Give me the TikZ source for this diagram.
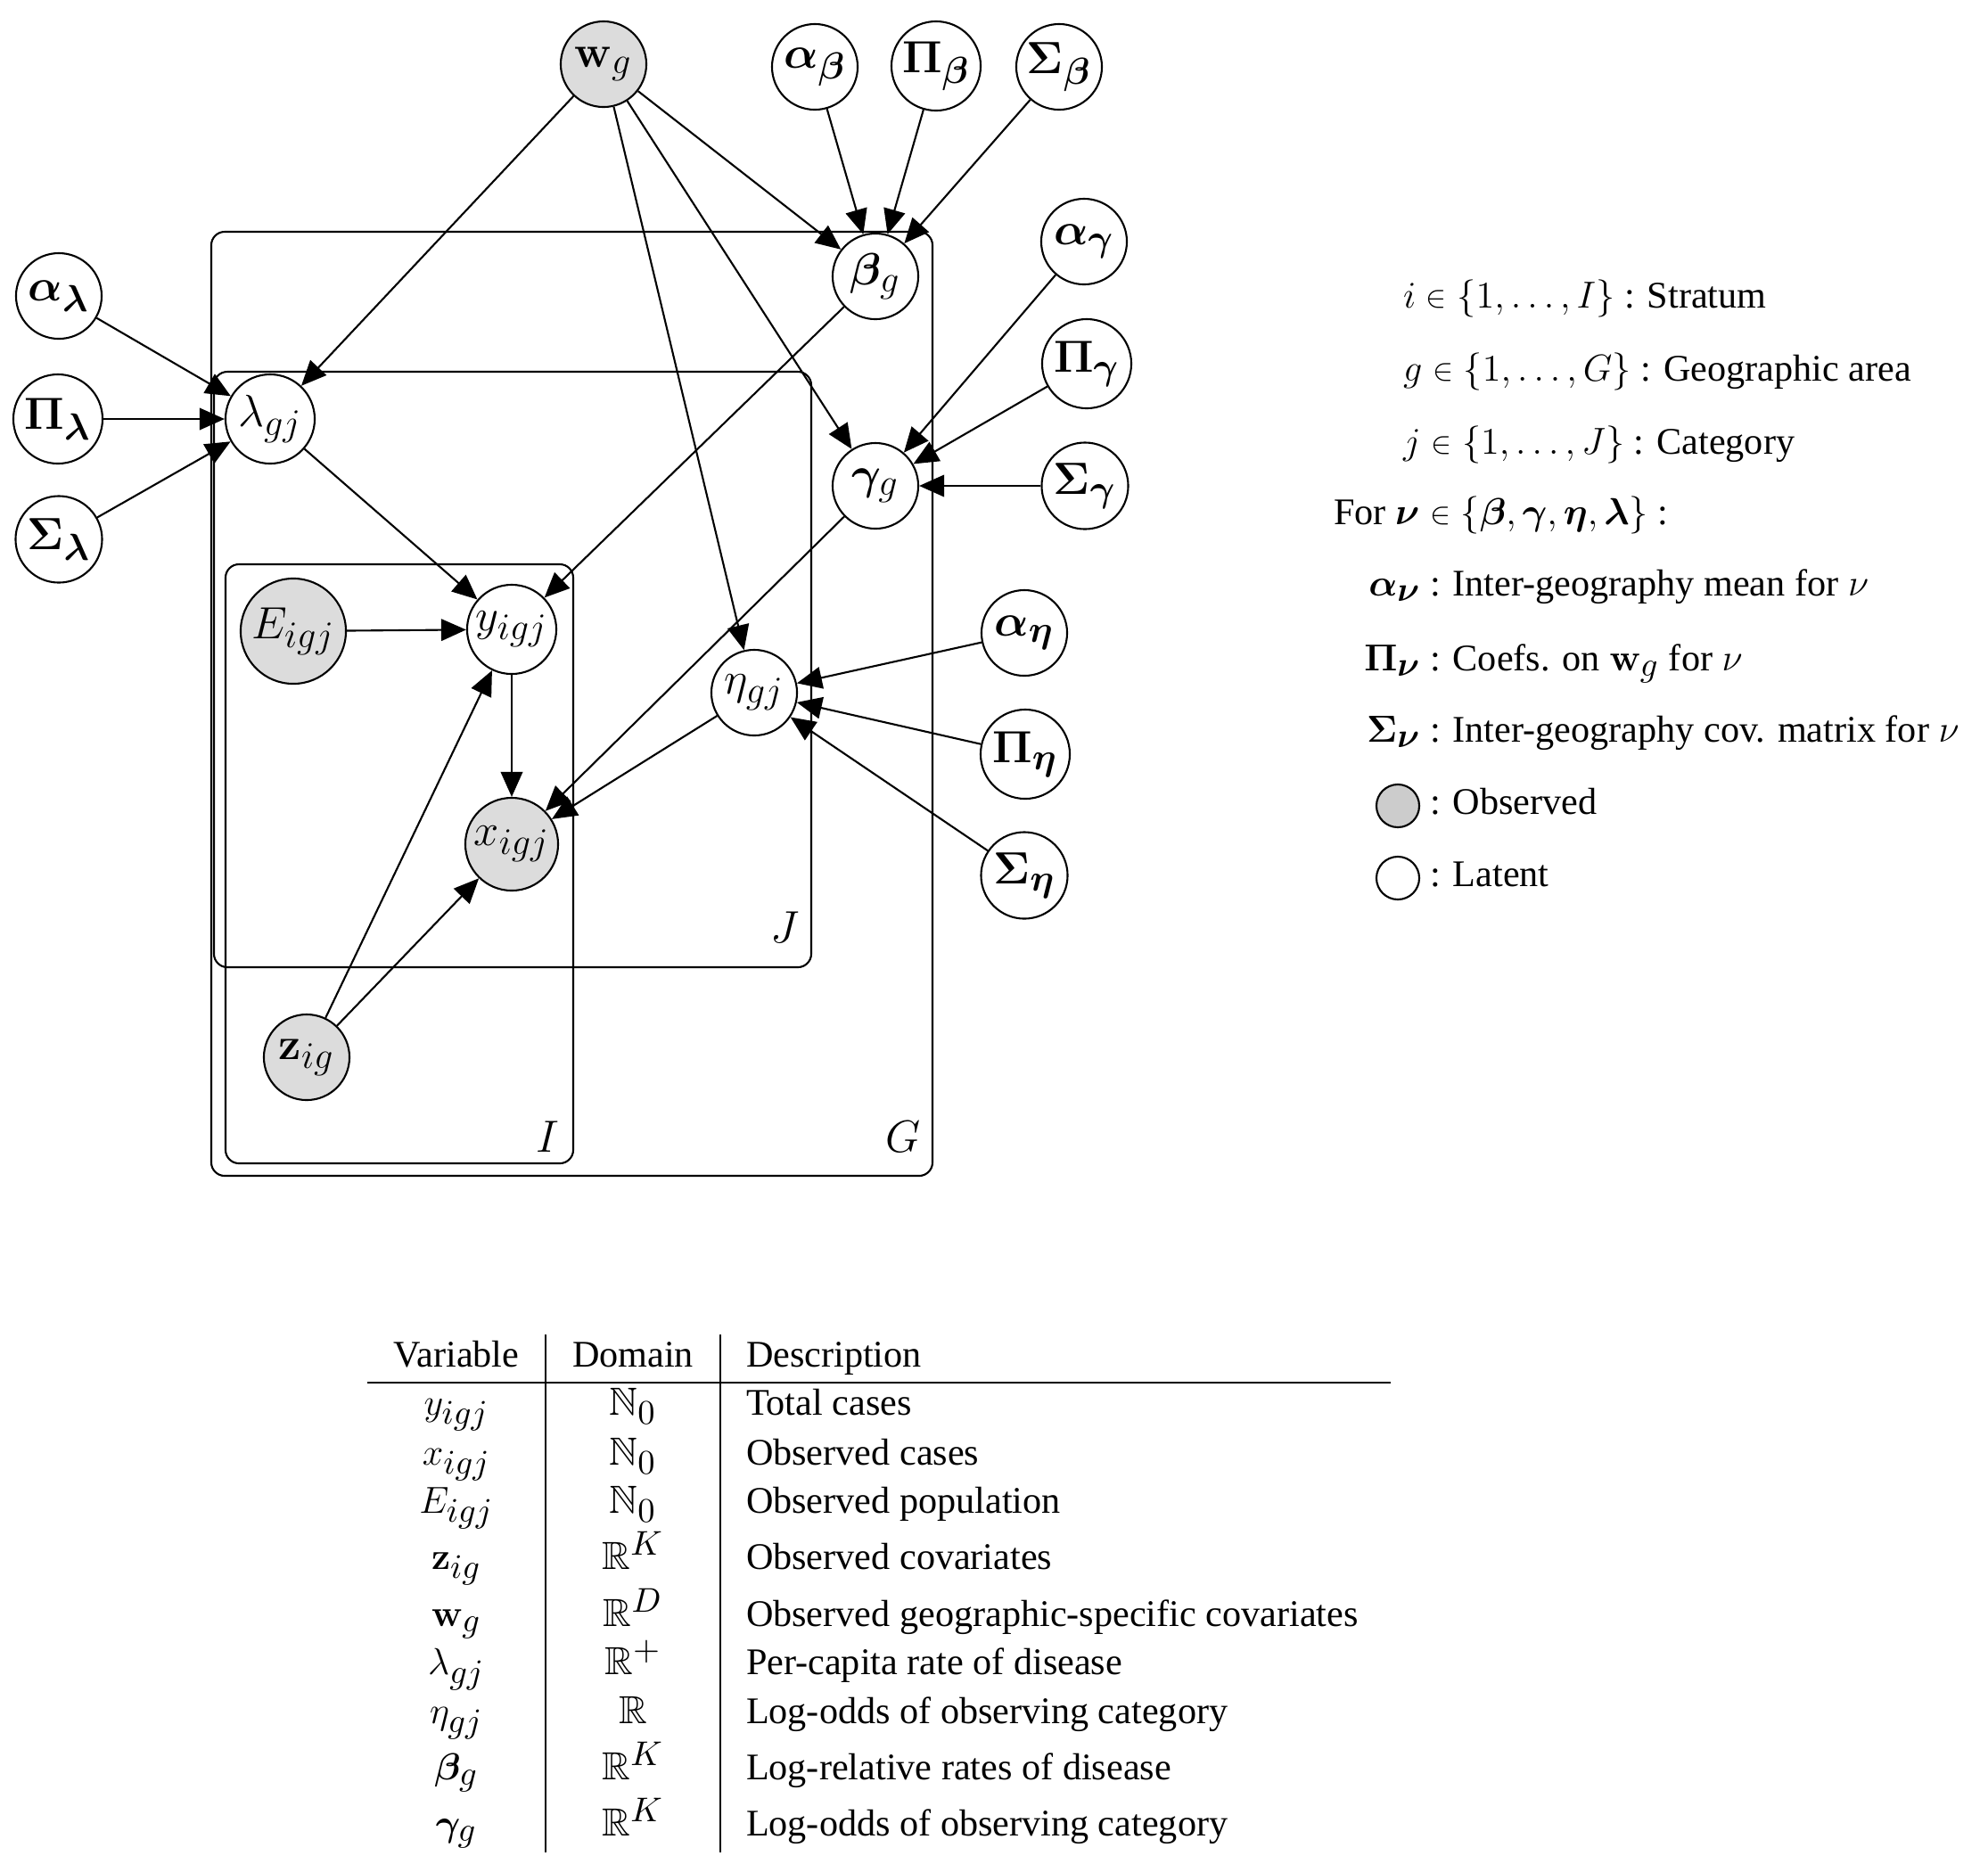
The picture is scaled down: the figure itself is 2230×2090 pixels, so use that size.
\documentclass[tikz,border=0pt]{standalone}
\usepackage{amsmath,amssymb,bm}
\usepackage{graphicx}
\usepackage[no-math]{fontspec}
\setmainfont{Liberation Serif}
\usetikzlibrary{arrows.meta}
\DeclareMathSizes{14}{14}{11.5}{9}
\DeclareMathSizes{12}{12.5}{10.6}{8.5}
\definecolor{obsgray}{HTML}{DCDCDC}
\definecolor{leggray}{HTML}{CCCCCC}
\newcommand{\myin}{\mathrel{\raisebox{0.05ex}{\scalebox{0.82}{$\in$}}}}
\begin{document}
\begin{tikzpicture}[x=0.01cm,y=-0.01cm,
  lw/.style={line width=0.6pt},
  nd/.style={circle, draw, lw, fill=white, inner sep=0pt, font=\fontsize{14}{16}\selectfont},
  obs/.style={nd, fill=obsgray},
  arr/.style={lw, -{Triangle[length=0.28cm,width=0.245cm]}},
  plate/.style={lw, rounded corners=0.15cm},
  txt/.style={inner sep=0pt, outer sep=0pt, font=\fontsize{12}{14}\selectfont},
  plab/.style={inner sep=0pt, font=\fontsize{14}{16}\selectfont},
  legc/.style={circle, draw, lw, minimum size=0.48cm, inner sep=0pt}
]
\useasboundingbox (0,0) rectangle (2230,2090);

% plates
\draw[plate] (237,260) rectangle (1046,1319);
\draw[plate] (240,417) rectangle (910,1085);
\draw[plate] (253,633) rectangle (643,1305);
\node[plab] (labJ) at (881,1040) {$J$};
\node[plab] (labI) at (614,1275) {$I$};
\node[plab] (labG) at (1013,1275) {$G$};

% nodes
\node[obs, minimum size=0.96cm] (wg) at (677,72) {$\mathbf{w}_g$};
\node[nd, minimum size=0.96cm] (ab) at (914,75) {$\bm{\alpha}_{\bm{\beta}}$};
\node[nd, minimum size=1.0cm] (pb) at (1050,74) {$\bm{\Pi}_{\bm{\beta}}$};
\node[nd, minimum size=0.96cm] (sb) at (1188,75) {$\bm{\Sigma}_{\bm{\beta}}$};
\node[nd, minimum size=0.96cm] (ag) at (1216,271) {$\bm{\alpha}_{\bm{\gamma}}$};
\node[nd, minimum size=1.0cm] (pg) at (1219,408) {$\bm{\Pi}_{\bm{\gamma}}$};
\node[nd, minimum size=0.97cm] (sg) at (1217,545) {$\bm{\Sigma}_{\bm{\gamma}}$};
\node[nd, minimum size=0.96cm] (ae) at (1149,710) {$\bm{\alpha}_{\bm{\eta}}$};
\node[nd, minimum size=1.0cm] (pe) at (1150,846) {$\bm{\Pi}_{\bm{\eta}}$};
\node[nd, minimum size=0.97cm] (se) at (1149,982) {$\bm{\Sigma}_{\bm{\eta}}$};
\node[nd, minimum size=0.96cm] (al) at (66,332) {$\bm{\alpha}_{\bm{\lambda}}$};
\node[nd, minimum size=1.0cm] (pl) at (65,470) {$\bm{\Pi}_{\bm{\lambda}}$};
\node[nd, minimum size=0.97cm] (sl) at (66,605) {$\bm{\Sigma}_{\bm{\lambda}}$};
\node[nd, minimum size=0.96cm] (beta) at (982,310) {$\bm{\beta}_g$};
\node[nd, minimum size=0.96cm] (gamma) at (982,545) {$\bm{\gamma}_g$};
\node[nd, minimum size=1.0cm] (lam) at (303,470) {$\lambda_{gj}$};
\node[nd, minimum size=1.0cm] (y) at (574,706) {$y_{igj}$};
\node[obs, minimum size=1.18cm] (E) at (329,708) {$E_{igj}$};
\node[nd, minimum size=0.96cm] (eta) at (846,777) {$\eta_{gj}$};
\node[obs, minimum size=1.04cm] (x) at (574,947) {$x_{igj}$};
\node[obs, minimum size=0.96cm] (z) at (344,1186) {$\mathbf{z}_{ig}$};

% edges
\draw[arr] (wg) -- (lam);
\draw[arr] (wg) -- (beta);
\draw[arr] (wg) -- (gamma);
\draw[arr] (wg) -- (eta);
\draw[arr] (ab) -- (beta);
\draw[arr] (pb) -- (beta);
\draw[arr] (sb) -- (beta);
\draw[arr] (ag) -- (gamma);
\draw[arr] (pg) -- (gamma);
\draw[arr] (sg) -- (gamma);
\draw[arr] (ae) -- (eta);
\draw[arr] (pe) -- (eta);
\draw[arr] (se) -- (eta);
\draw[arr] (al) -- (lam);
\draw[arr] (pl) -- (lam);
\draw[arr] (sl) -- (lam);
\draw[arr] (lam) -- (y);
\draw[arr] (beta) -- (y);
\draw[arr] (E) -- (y);
\draw[arr] (y) -- (x);
\draw[arr] (gamma) -- (x);
\draw[arr] (eta) -- (x);
\draw[arr] (z) -- (y);
\draw[arr] (z) -- (x);

% legend
\node[txt, anchor=base west] (l1) at (1574,345) {$i \myin \{1,\ldots,I\}$ : Stratum};
\node[txt, anchor=base west] (l2) at (1574,427) {$g \myin \{1,\ldots,G\}$ : Geographic area};
\node[txt, anchor=base west] (l3) at (1574,509) {$j \myin \{1,\ldots,J\}$ : Category};
\node[txt, anchor=base west] (l4) at (1496,588) {For $\bm{\nu} \myin \{\bm{\beta},\bm{\gamma},\bm{\eta},\bm{\lambda}\}$ :};
\node[txt, anchor=base east] (s5) at (1594,668) {$\bm{\alpha}_{\bm{\nu}}$};
\node[txt, anchor=base west] (l5) at (1604,668) {: Inter-geography mean for $\nu$};
\node[txt, anchor=base east] (s6) at (1594,752) {$\bm{\Pi}_{\bm{\nu}}$};
\node[txt, anchor=base west] (l6) at (1604,752) {: Coefs. on $\mathbf{w}_g$ for $\nu$};
\node[txt, anchor=base east] (s7) at (1594,832) {$\bm{\Sigma}_{\bm{\nu}}$};
\node[txt, anchor=base west] (l7) at (1604,832) {: Inter-geography cov. matrix for $\nu$};
\node[legc, fill=leggray] (c8) at (1568,904) {};
\node[txt, anchor=base west] (l8) at (1604,913) {: Observed};
\node[legc, fill=white] (c9) at (1568,985) {};
\node[txt, anchor=base west] (l9) at (1604,994) {: Latent};

% table
\draw[line width=0.65pt] (412,1551) -- (1560,1551);
\draw[line width=0.5pt] (612,1497) -- (612,2078);
\draw[line width=0.5pt] (808,1497) -- (808,2078);
\node[txt, anchor=base] (hv) at (512,1533) {Variable};
\node[txt, anchor=base] (hd) at (710,1533) {Domain};
\node[txt, anchor=base west] (hs) at (837,1533) {Description};

\foreach \yy/\v/\d/\t [count=\k] in {
  1587/{y_{igj}}/{\mathbb{N}_0}/{Total cases},
  1643/{x_{igj}}/{\mathbb{N}_0}/{Observed cases},
  1697/{E_{igj}}/{\mathbb{N}_0}/{Observed population},
  1760/{\mathbf{z}_{ig}}/{\mathbb{R}^K}/{Observed covariates},
  1824/{\mathbf{w}_g}/{\mathbb{R}^D}/{Observed geographic-specific covariates},
  1878/{\lambda_{gj}}/{\mathbb{R}^+}/{Per-capita rate of disease},
  1933/{\eta_{gj}}/{\mathbb{R}}/{Log-odds of observing category},
  1996/{\bm{\beta}_g}/{\mathbb{R}^K}/{Log-relative rates of disease},
  2059/{\bm{\gamma}_g}/{\mathbb{R}^K}/{Log-odds of observing category}}{
  \node[txt, anchor=base] (v\k) at (512,\yy) {$\v$};
  \node[txt, anchor=base] (d\k) at (710,\yy) {$\d$};
  \node[txt, anchor=base west] (t\k) at (837,\yy) {\t};
}
\end{tikzpicture}
\end{document}
